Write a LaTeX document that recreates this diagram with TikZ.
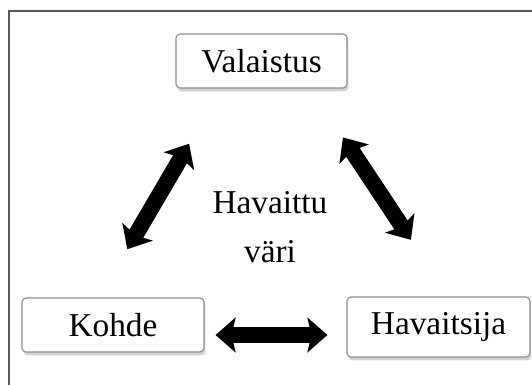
\documentclass[tikz,border=0pt]{standalone}
\usepackage{fontspec}
\setmainfont{Liberation Serif}
\usetikzlibrary{arrows.meta,shadows}
\tikzstyle{every picture}+=[x=0.75pt,y=-0.75pt]
\tikzstyle{every picture}+=[every shadow/.style={opacity=.35}]
\tikzstyle{every node}+=[font=\fontsize{25}{36.75}\selectfont]
\tikzstyle{laatikko}=[draw=black!45,line width=0.8pt,fill=white,rounded corners=3pt,
  drop shadow={shadow xshift=1pt,shadow yshift=-2.5pt},inner sep=0pt]
\tikzstyle{nuoli}=[line width=12pt,{Stealth[length=15pt,width=26pt,inset=3pt]}-{Stealth[length=15pt,width=26pt,inset=3pt]}]

\begin{document}
\begin{tikzpicture}
\useasboundingbox (0,0) rectangle (532,385);
\draw[black!65,line width=1.1pt] (9,385) -- (9,11) -- (532,11);

\node[laatikko,minimum width=128.25pt,minimum height=40.5pt] (valo) at (261.5,61) {Valaistus};
\node[laatikko,minimum width=136.5pt,minimum height=40.5pt] (kohde) at (113,325) {Kohde};
\node[laatikko,minimum width=137.25pt,minimum height=45pt] (havaitsija) at (438.5,327) {Havaitsija};
\node[align=center] (vari) at (270,227) {Havaittu\\väri};

\draw[nuoli,shorten <=48pt,shorten >=42pt] ([xshift=34.5pt]valo.south west) -- ([xshift=-10.5pt]kohde.north);
\draw[nuoli,shorten <=44pt,shorten >=51pt] ([xshift=-27.75pt]valo.south east) -- ([xshift=7.5pt]havaitsija.north);
\draw[nuoli,shorten <=8.25pt,shorten >=14.25pt] ([yshift=-7.5pt]kohde.east) -- ([yshift=-6pt]havaitsija.west);
\end{tikzpicture}
\end{document}
